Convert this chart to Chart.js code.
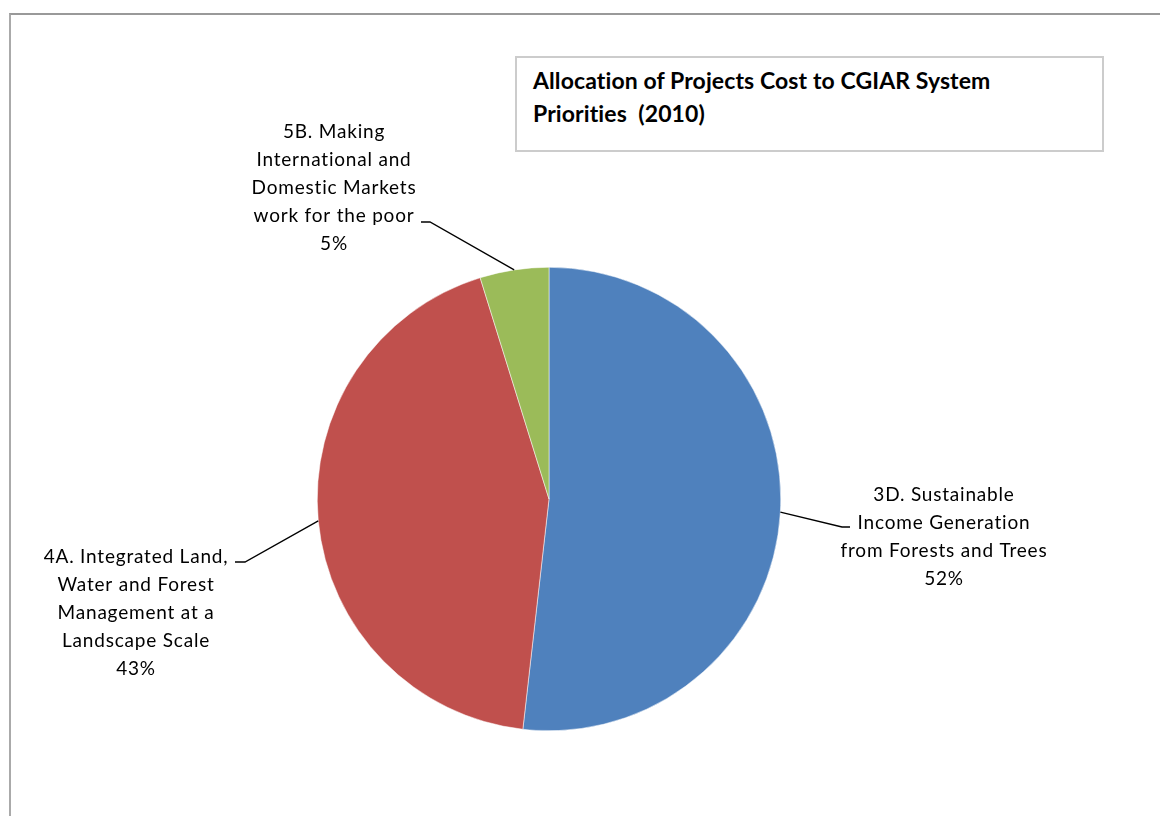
<!DOCTYPE html>
<html>
<head>
<meta charset="utf-8">
<script src="https://cdn.jsdelivr.net/npm/chart.js@4/dist/chart.umd.min.js"></script>
<style>
  body { margin: 0; background: #fff; }
  #wrap { position: relative; width: 1160px; height: 816px; overflow: hidden; }
  #frame { position: absolute; left: 9px; top: 13px; width: 1200px; height: 900px;
           border-top: 2px solid #999; border-left: 2px solid #aaa; }
  #titlebox { position: absolute; left: 515px; top: 56px; width: 585px; height: 92px;
              border: 2px solid #ccc; background: #fff; }
  #titlebox div { position: absolute; left: 16px; top: 6px; font: bold 23px Lato, "Liberation Sans", sans-serif;
                  line-height: 33px; color: #000; white-space: nowrap; letter-spacing: 0.1px; }
  canvas { position: absolute; left: 0; top: 0; }
</style>
</head>
<body>
<div id="wrap">
  <div id="frame"></div>
  <canvas id="canvas" width="1160" height="816"></canvas>
  <div id="titlebox"><div>Allocation of Projects Cost to CGIAR System<br>Priorities&nbsp; (2010)</div></div>
</div>
<script>
// data
let categorias = [
  ["3D. Sustainable", "Income Generation", "from Forests and Trees"],
  ["4A. Integrated Land,", "Water and Forest", "Management at a", "Landscape Scale"],
  ["5B. Making", "International and", "Domestic Markets", "work for the poor"]
];
let valores = [51.8, 43.4, 4.8];
let colores = ["#4F81BD", "#C0504D", "#9BBB59"];

// where each label and its leader elbow goes
let etiquetas = [
  { codo: [842, 527], fin: [850, 527], x: 944, y: 495 },
  { codo: [245, 562], fin: [235, 562], x: 136, y: 557 },
  { codo: [430, 222], fin: [421, 222], x: 334, y: 132 }
];

let total = valores.reduce((a, b) => a + b, 0);

const leaders = {
  id: "leaders",
  afterDatasetsDraw(chart) {
    let ctx = chart.ctx;
    let meta = chart.getDatasetMeta(0);
    ctx.save();
    meta.data.forEach((arc, i) => {
      let mid = (arc.startAngle + arc.endAngle) / 2;
      let x0 = arc.x + Math.cos(mid) * arc.outerRadius;
      let y0 = arc.y + Math.sin(mid) * arc.outerRadius;
      let e = etiquetas[i];
      ctx.strokeStyle = "#000";
      ctx.lineWidth = 1.3;
      ctx.beginPath();
      ctx.moveTo(x0, y0);
      ctx.lineTo(e.codo[0], e.codo[1]);
      ctx.lineTo(e.fin[0], e.fin[1]);
      ctx.stroke();

      let lineas = categorias[i].concat([Math.round(valores[i] / total * 100) + "%"]);
      ctx.fillStyle = "#000";
      ctx.font = "19px Lato, 'Liberation Sans', sans-serif";
      ctx.letterSpacing = "0.8px";
      ctx.textAlign = "center";
      ctx.textBaseline = "middle";
      lineas.forEach((t, j) => {
        ctx.fillText(t, e.x, e.y + j * 28);
      });
    });
    ctx.restore();
  }
};

var chart = new Chart(document.getElementById("canvas"), {
  type: "pie",
  data: {
    labels: categorias.map((c) => c.join(" ")),
    datasets: [
      {
        data: valores,
        backgroundColor: colores,
        borderColor: "#fff",
        borderWidth: 0.5,
      },
    ],
  },
  options: {
    responsive: false,
    animation: false,
    layout: { padding: { left: 317, right: 379, top: 267, bottom: 85 } },
    plugins: {
      legend: { display: false },
      tooltip: { enabled: false },
    },
  },
  plugins: [leaders],
});
</script>
</body>
</html>
